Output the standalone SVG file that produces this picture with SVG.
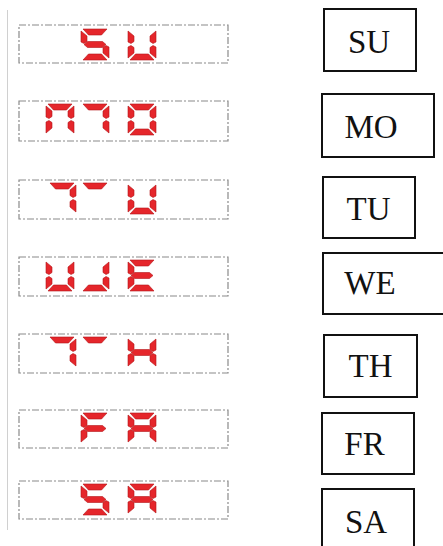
<svg xmlns="http://www.w3.org/2000/svg" xmlns:xlink="http://www.w3.org/1999/xlink" width="443" height="546" viewBox="0 0 443 546">
<style>
.seg{fill:#e5262b;stroke:#b3151a;stroke-width:0.6}
.panel{fill:#fff;stroke:#8a8a8a;stroke-width:1.2;stroke-dasharray:7 2 2 2}
.box{fill:#fff;stroke:#111;stroke-width:2}
.lbl{font-family:"Liberation Serif","Times New Roman",serif;font-size:33px;fill:#111;text-anchor:middle}
</style>
<defs>
<path id="sa" class="seg" d="M2,0 H26 L20.5,6 H7.5 Z"/>
<path id="sb" class="seg" d="M28,2 L22,7 V12.5 L25,14.5 L28,13 Z"/>
<path id="sc" class="seg" d="M28,18 L25,16.5 L22,18.5 V24 L28,29 Z"/>
<path id="sd" class="seg" d="M2,31 H26 L20.5,25 H7.5 Z"/>
<path id="se" class="seg" d="M0,18 L3,16.5 L6,18.5 V24 L0,29 Z"/>
<path id="sf" class="seg" d="M0,2 L6,7 V12.5 L3,14.5 L0,13 Z"/>
<path id="sg" class="seg" d="M3,15.5 L6.5,12.5 H21.5 L25,15.5 L21.5,18.5 H6.5 Z"/>
</defs>
<rect width="443" height="546" fill="#fff"/>
<line x1="7.5" y1="10" x2="7.5" y2="530" stroke="#d0d0d0" stroke-width="1"/>

<g id="display-su">
<rect class="panel" x="19" y="25" width="209" height="38"/>
<g transform="translate(81,29)"><use href="#sa"/><use href="#sf"/><use href="#sg"/><use href="#sc"/><use href="#sd"/></g>
<g transform="translate(128,29)"><use href="#sb"/><use href="#sc"/><use href="#sd"/><use href="#se"/><use href="#sf"/></g>
</g>
<g id="display-mo">
<rect class="panel" x="19" y="101" width="209" height="40"/>
<g transform="translate(46,104)"><use href="#sa"/><use href="#sb"/><use href="#sc"/><use href="#se"/><use href="#sf"/></g>
<g transform="translate(81,104)"><use href="#sa"/><use href="#sb"/><use href="#sc"/></g>
<g transform="translate(128,104)"><use href="#sa"/><use href="#sb"/><use href="#sc"/><use href="#sd"/><use href="#se"/><use href="#sf"/></g>
</g>
<g id="display-tu">
<rect class="panel" x="19" y="180" width="209" height="39"/>
<g transform="translate(48,183)"><use href="#sa"/><use href="#sb"/><use href="#sc"/></g>
<g transform="translate(81,183)"><use href="#sa"/></g>
<g transform="translate(128,183)"><use href="#sb"/><use href="#sc"/><use href="#sd"/><use href="#se"/><use href="#sf"/></g>
</g>
<g id="display-we">
<rect class="panel" x="19" y="257" width="209" height="39"/>
<g transform="translate(46,260)"><use href="#sb"/><use href="#sc"/><use href="#sd"/><use href="#se"/><use href="#sf"/></g>
<g transform="translate(81,260)"><use href="#sb"/><use href="#sc"/><use href="#sd"/></g>
<g transform="translate(128,260)"><use href="#sa"/><use href="#sd"/><use href="#se"/><use href="#sf"/><use href="#sg"/></g>
</g>
<g id="display-th">
<rect class="panel" x="19" y="334" width="209" height="39"/>
<g transform="translate(48,337)"><use href="#sa"/><use href="#sb"/><use href="#sc"/></g>
<g transform="translate(81,337)"><use href="#sa"/></g>
<g transform="translate(128,337)"><use href="#sb"/><use href="#sc"/><use href="#se"/><use href="#sf"/><use href="#sg"/></g>
</g>
<g id="display-fa">
<rect class="panel" x="19" y="410" width="209" height="38"/>
<g transform="translate(81,413)"><use href="#sa"/><use href="#se"/><use href="#sf"/><use href="#sg"/></g>
<g transform="translate(128,413)"><use href="#sa"/><use href="#sb"/><use href="#sc"/><use href="#se"/><use href="#sf"/><use href="#sg"/></g>
</g>
<g id="display-sa">
<rect class="panel" x="19" y="481" width="209" height="38"/>
<g transform="translate(81,484)"><use href="#sa"/><use href="#sf"/><use href="#sg"/><use href="#sc"/><use href="#sd"/></g>
<g transform="translate(128,484)"><use href="#sa"/><use href="#sb"/><use href="#sc"/><use href="#se"/><use href="#sf"/><use href="#sg"/></g>
</g>

<g id="box-su"><rect class="box" x="324" y="9" width="92" height="62"/><text class="lbl" x="369" y="53">SU</text></g>
<g id="box-mo"><rect class="box" x="322" y="94" width="112" height="63"/><text class="lbl" x="371" y="138">MO</text></g>
<g id="box-tu"><rect class="box" x="323" y="177" width="92" height="61"/><text class="lbl" x="368.5" y="220">TU</text></g>
<g id="box-we"><rect class="box" x="323" y="253" width="130" height="61"/><text class="lbl" x="370" y="294">WE</text></g>
<g id="box-th"><rect class="box" x="324" y="335" width="93" height="62"/><text class="lbl" x="370.5" y="377">TH</text></g>
<g id="box-fr"><rect class="box" x="322" y="413" width="92" height="61"/><text class="lbl" x="364.5" y="455">FR</text></g>
<g id="box-sa"><rect class="box" x="322" y="489" width="92" height="70"/><text class="lbl" x="366" y="533">SA</text></g>
</svg>
